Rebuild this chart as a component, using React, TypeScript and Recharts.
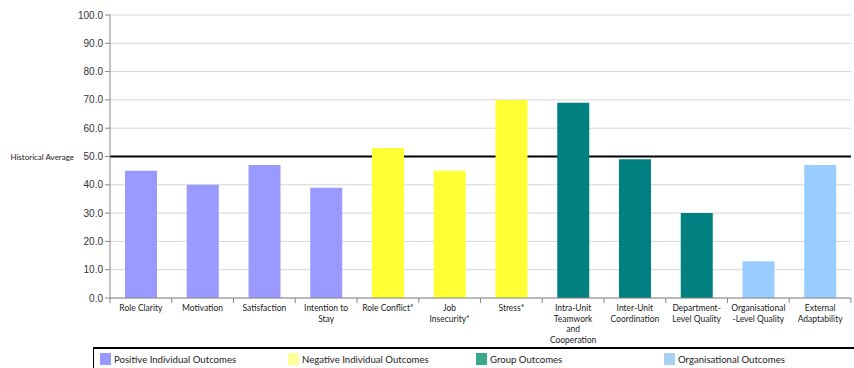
import { BarChart, Bar, XAxis, YAxis, ReferenceLine, Cell, CartesianGrid } from 'recharts';

// categories (line breaks as in the original labels)
const categories = [
  'Role Clarity',
  'Motivation',
  'Satisfaction',
  'Intention to\nStay',
  'Role Conflict*',
  'Job\nInsecurity*',
  'Stress*',
  'Intra-Unit\nTeamwork\nand\nCooperation',
  'Inter-Unit\nCoordination',
  'Department-\nLevel Quality',
  'Organisational\n-Level Quality',
  'External\nAdaptability',
];

const scores = [45, 40, 47, 39, 53, 45, 70, 69, 49, 30, 13, 47];

// which outcome group each category belongs to
const groupOf = [0, 0, 0, 0, 1, 1, 1, 2, 2, 2, 3, 3];

const groupNames = [
  'Positive Individual Outcomes',
  'Negative Individual Outcomes',
  'Group Outcomes',
  'Organisational Outcomes',
];
const groupColors = ['#9999FF', '#FFFF33', '#008080', '#99CCFF'];
const legendColors = ['#9999FF', '#FFFF99', '#3CA98C', '#A9D0F0'];

const yTicks = [0, 10, 20, 30, 40, 50, 60, 70, 80, 90, 100];
const historicalAverage = 50;

const chartData = categories.map((name, i) => ({ name, score: scores[i], group: groupOf[i] }));

const labelFont = 'Lato, "Open Sans", sans-serif';

const CategoryTick = (props: any) => {
  const { x, y, payload, index } = props;
  const half = payload.offset || 0;
  const lines = String(payload.value).split('\n');
  return (
    <g>
      <line x1={x - half} y1={y - 8} x2={x - half} y2={y - 3} stroke="#888" />
      {index === categories.length - 1 && (
        <line x1={x + half} y1={y - 8} x2={x + half} y2={y - 3} stroke="#888" />
      )}
      <text x={x} y={y + 5} textAnchor="middle" fontSize={8.5} fill="#222" fontFamily={labelFont}>
        {lines.map((l, i) => (
          <tspan key={i} x={x} dy={i === 0 ? 0 : 10.5}>
            {l}
          </tspan>
        ))}
      </text>
    </g>
  );
};

const AverageLabel = (props: any) => {
  const { viewBox } = props;
  return (
    <text x={viewBox.x - 36} y={viewBox.y + 3} textAnchor="end" fontSize={8} fill="#222" fontFamily={labelFont}>
      Historical Average
    </text>
  );
};

export default function App() {
  return (
    <div style={{ position: 'absolute', left: 0, top: 0, width: 854, height: 368, background: '#fff' }}>
      <BarChart
        width={854}
        height={368}
        data={chartData}
        margin={{ top: 15, right: 3, left: 70, bottom: 0 }}
      >
        <CartesianGrid vertical={false} stroke="#d6d6d6" />
        <XAxis
          dataKey="name"
          interval={0}
          height={70}
          tickLine={false}
          axisLine={{ stroke: '#888' }}
          tick={<CategoryTick />}
        />
        <YAxis
          domain={[0, 100]}
          ticks={yTicks}
          width={40}
          tickSize={5}
          axisLine={{ stroke: '#888' }}
          tickLine={{ stroke: '#888' }}
          tickFormatter={(v: number) => v.toFixed(1)}
          tick={{ fontSize: 10, fill: '#333', fontFamily: '"Liberation Sans", Arial, sans-serif' }}
        />
        <ReferenceLine
          y={historicalAverage}
          stroke="#000"
          strokeWidth={2}
          zIndex={50}
          label={<AverageLabel />}
        />
        <Bar dataKey="score" barSize={32} isAnimationActive={false} zIndex={300}>
          {chartData.map((d, i) => (
            <Cell key={`cell-${i}`} fill={groupColors[d.group]} />
          ))}
        </Bar>
      </BarChart>
      <div
        style={{
          position: 'absolute',
          left: 93,
          top: 347,
          width: 770,
          height: 24,
          borderTop: '2px solid #000',
          borderLeft: '1px solid #000',
          fontFamily: labelFont,
          fontSize: 9.6,
          color: '#222',
        }}
      >
        {groupNames.map((g, i) => (
          <div
            key={g}
            style={{
              position: 'absolute',
              left: [6, 194, 382, 570][i],
              top: 4,
              display: 'flex',
              alignItems: 'center',
            }}
          >
            <span style={{ display: 'inline-block', width: 11, height: 12, background: legendColors[i], marginRight: 3 }} />
            {g}
          </div>
        ))}
      </div>
    </div>
  );
}
